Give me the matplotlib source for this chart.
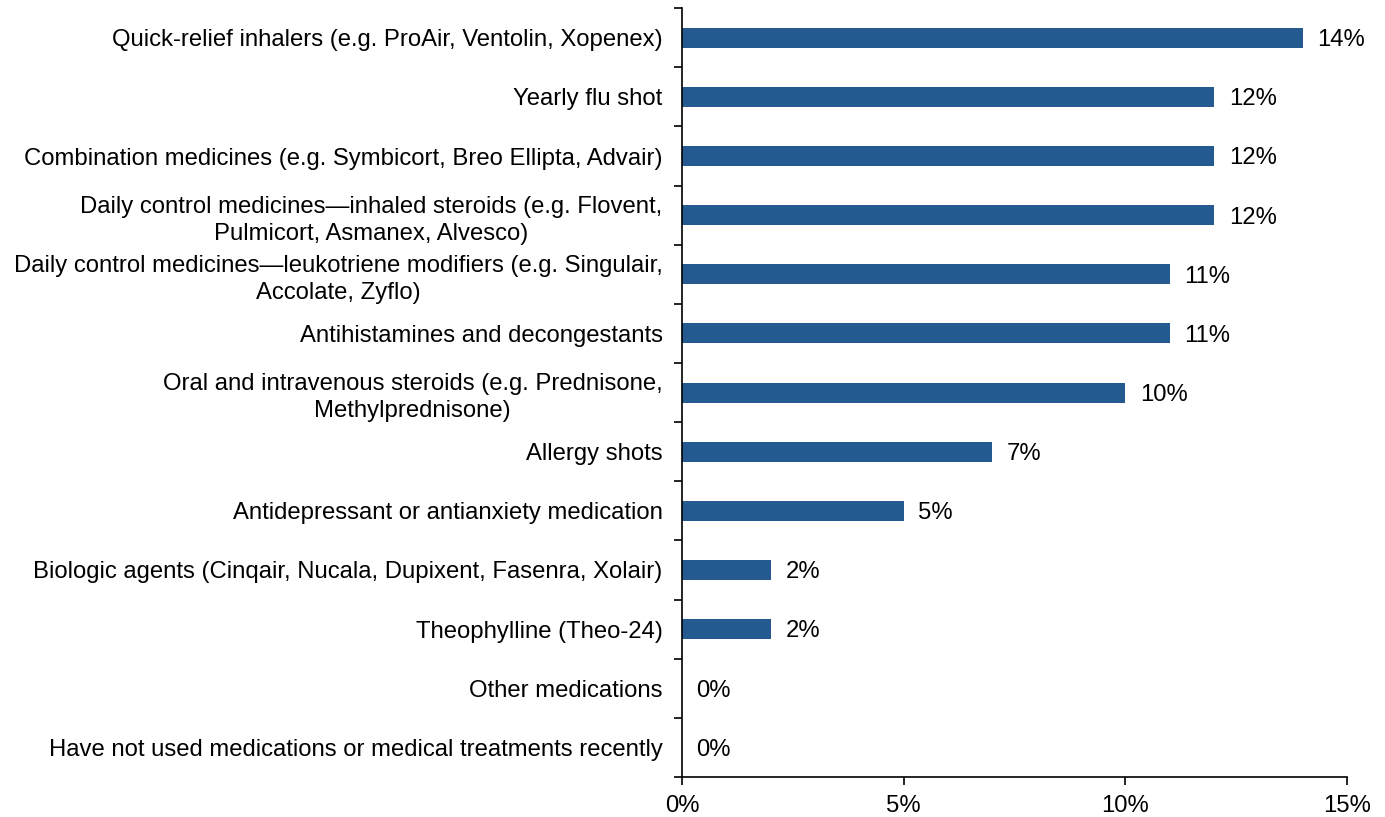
import matplotlib
matplotlib.use("Agg")
import matplotlib.pyplot as plt
import numpy as np

plt.rcParams['font.family'] = ['Liberation Sans', 'DejaVu Sans']

categories = [
    "Quick-relief inhalers (e.g. ProAir, Ventolin, Xopenex)",
    "Yearly flu shot",
    "Combination medicines (e.g. Symbicort, Breo Ellipta, Advair)",
    "Daily control medicines\u2014inhaled steroids (e.g. Flovent,\nPulmicort, Asmanex, Alvesco)",
    "Daily control medicines\u2014leukotriene modifiers (e.g. Singulair,\nAccolate, Zyflo)",
    "Antihistamines and decongestants",
    "Oral and intravenous steroids (e.g. Prednisone,\nMethylprednisone)",
    "Allergy shots",
    "Antidepressant or antianxiety medication",
    "Biologic agents (Cinqair, Nucala, Dupixent, Fasenra, Xolair)",
    "Theophylline (Theo-24)",
    "Other medications",
    "Have not used medications or medical treatments recently",
]
values = [14, 12, 12, 12, 11, 11, 10, 7, 5, 2, 2, 0, 0]
x_ticks = [0, 5, 10, 15]
x_tick_labels = ["0%", "5%", "10%", "15%"]

fs = 17.2

fig = plt.figure(figsize=(13.85, 8.17), dpi=100)
ax = fig.add_axes([0.4924, 0.049, 0.4802, 0.941])

y = np.arange(len(categories))
ax.barh(y, values, height=0.34, color="#255A91")

for yi, v in zip(y, values):
    ax.text(v + 0.33, yi + 0.04, f"{v}%", va="center", ha="left", fontsize=fs)

ax.set_ylim(len(categories) - 0.5, -0.5)
ax.set_xlim(0, 15)

ax.set_yticks(y)
ax.set_yticklabels(categories, fontsize=fs, multialignment="center", linespacing=1.3)
ax.tick_params(axis="y", length=0, pad=14)
ax.set_yticks(np.arange(-0.5, len(categories), 1), minor=True)
ax.tick_params(axis="y", which="minor", length=6, width=1.2, direction="out")

ax.set_xticks(x_ticks)
ax.set_xticklabels(x_tick_labels, fontsize=fs)
ax.tick_params(axis="x", length=6, width=1.2, direction="out", pad=7)

for side in ["top", "right"]:
    ax.spines[side].set_visible(False)
for side in ["left", "bottom"]:
    ax.spines[side].set_linewidth(1.2)

fig.savefig("out.png", dpi=100)
